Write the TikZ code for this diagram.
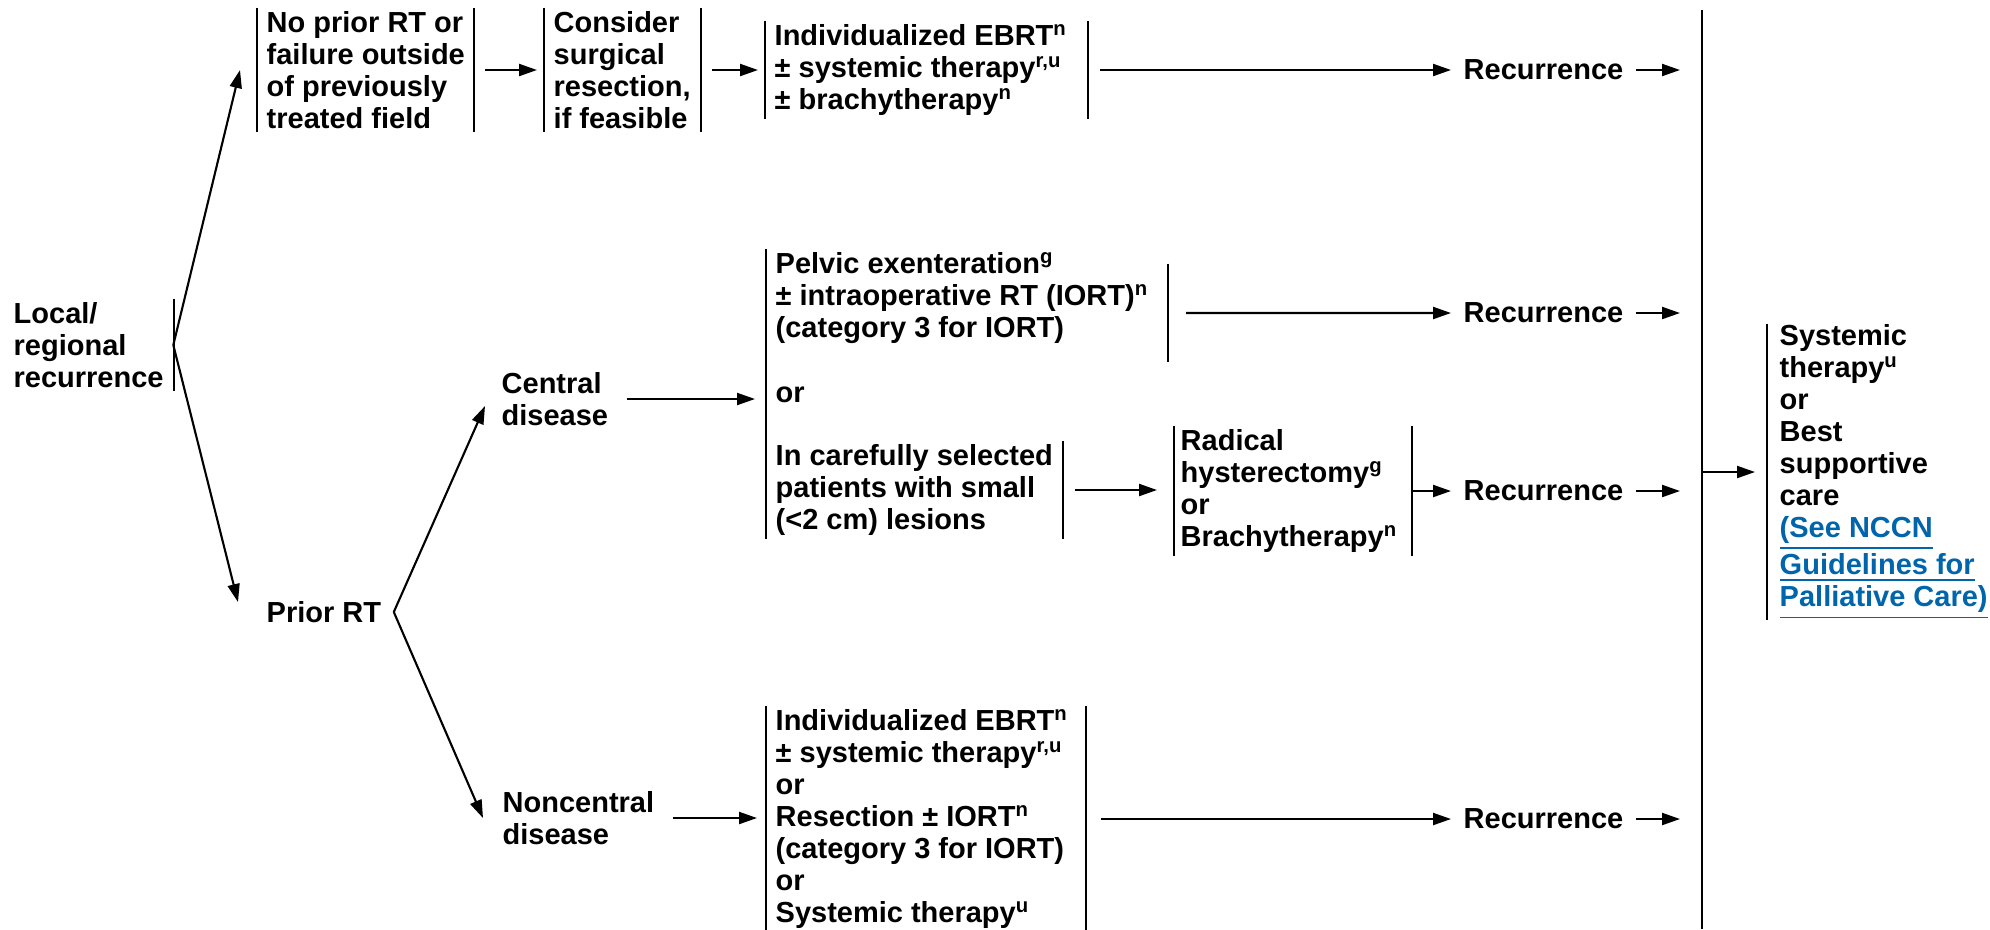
\documentclass[tikz,border=0pt]{standalone}
\usepackage{fontspec}
\setmainfont{Liberation Sans}
\usepackage{tikz}
\usetikzlibrary{arrows.meta}
\definecolor{linkblue}{RGB}{0,101,170}

\begin{document}
\begin{tikzpicture}[
	txt/.style={font=\fontsize{8.25}{9.1}\selectfont\bfseries, inner xsep=0.09cm, inner ysep=0.03cm, align=left},
	barline/.style={-, line width=0.8pt},
	lbar/.style={append after command={(\tikzlastnode.north west) edge[barline] (\tikzlastnode.south west)}},
	rbar/.style={append after command={([xshift=#1]\tikzlastnode.north west) edge[barline] ([xshift=#1]\tikzlastnode.south west)}},
	rec/.style={txt, inner xsep=0.12cm},
	arr/.style={-{Triangle[length=0.18cm,width=0.12cm]}, line width=0.6pt},
	]
	\useasboundingbox (0,0) rectangle (19.90,-9.29);

	%left column
	\node[txt, rbar=1.70cm, anchor=west] (local) at (0.04,-3.45) {Local/\\regional\\recurrence};
	\node[rec, anchor=west] (prior) at (2.54,-6.12) {Prior RT};
	\node[txt, anchor=west] (central) at (4.92,-3.99) {Central\\disease};
	\node[txt, anchor=west] (noncentral) at (4.93,-8.18) {Noncentral\\disease};

	%top row
	\node[txt, lbar, rbar=2.17cm, anchor=west] (noprior) at (2.57,-0.70) {No prior RT or\\failure outside\\of previously\\treated field};
	\node[txt, lbar, rbar=1.57cm, anchor=west] (surg) at (5.44,-0.70) {Consider\\surgical\\resection,\\if feasible};
	\node[txt, lbar, rbar=3.23cm, anchor=west] (ebrt) at (7.65,-0.70) {Individualized EBRT\textsuperscript{n}\\\textpm{} systemic therapy\textsuperscript{r,u}\\\textpm{} brachytherapy\textsuperscript{n}};

	%central disease group
	\node[txt, anchor=west] (pelvic) at (7.66,-2.98) {Pelvic exenteration\textsuperscript{g}\\\textpm{} intraoperative RT (IORT)\textsuperscript{n}\\(category 3 for IORT)};
	\node[txt, anchor=west] (orc) at (7.66,-3.95) {or};
	\node[txt, rbar=2.97cm, anchor=west] (small) at (7.66,-4.90) {In carefully selected\\patients with small\\(<2 cm) lesions};
	\node[txt, inner xsep=0.06cm, lbar, rbar=2.38cm, anchor=west] (radical) at (11.74,-4.91) {Radical\\hysterectomy\textsuperscript{g}\\or\\Brachytherapy\textsuperscript{n}};
		\draw[barline] (pelvic.north west) -- (small.south west);		%group bar
		\draw[barline] ([xshift=4.02cm,yshift=-0.15cm]pelvic.north west) -- ([xshift=4.02cm,yshift=-0.15cm]pelvic.south west);

	%noncentral disease
	\node[txt, lbar, rbar=3.20cm, anchor=west] (nonrx) at (7.66,-8.19) {Individualized EBRT\textsuperscript{n}\\\textpm{} systemic therapy\textsuperscript{r,u}\\or\\Resection \textpm{} IORT\textsuperscript{n}\\(category 3 for IORT)\\or\\Systemic therapy\textsuperscript{u}};

	%recurrence column
	\node[rec, anchor=west] (rec1) at (14.51,-0.70) {Recurrence};
	\node[rec, anchor=west] (rec2) at (14.51,-3.13) {Recurrence};
	\node[rec, anchor=west] (rec3) at (14.51,-4.91) {Recurrence};
	\node[rec, anchor=west] (rec4) at (14.51,-8.19) {Recurrence};
	\coordinate (spinetop) at (17.02,-0.10);
	\coordinate (spinebot) at (17.02,-9.29);
	\draw[barline] (spinetop) -- (spinebot);		%collecting line

	\node[rec, inner ysep=0pt, lbar, anchor=west] (final) at (17.67,-4.72) {Systemic\\therapy\textsuperscript{u}\\or\\Best\\supportive\\care\\\textcolor{linkblue}{\underline{(See NCCN}}\\\textcolor{linkblue}{\underline{Guidelines for}}\\\textcolor{linkblue}{\underline{Palliative Care)}}};

	%arrows
	\draw[arr] (local.east) -- ([xshift=-0.17cm]noprior.west);
	\draw[arr] (local.east) -- ([xshift=-0.16cm,yshift=0.10cm]prior.west);
	\draw[arr] (prior.east) -- ([xshift=-0.07cm,yshift=-0.07cm]central.west);
	\draw[arr] (prior.east) -- ([xshift=-0.10cm]noncentral.west);
	\draw[arr, shorten <=0.11cm, shorten >=0.07cm] ([xshift=2.17cm]noprior.west) -- (surg.west);
	\draw[arr, shorten <=0.11cm, shorten >=0.07cm] ([xshift=1.57cm]surg.west) -- (ebrt.west);
	\draw[arr, shorten <=0.12cm] ([xshift=3.23cm]ebrt.west) -- (rec1.west);
	\draw[arr, shorten <=0.09cm, shorten >=0.11cm] (central.east) -- (central.east -| pelvic.west);
	\draw[arr, shorten <=0.18cm] ([xshift=4.02cm,yshift=-0.15cm]pelvic.west) -- (rec2.west);
	\draw[arr, shorten <=0.12cm, shorten >=0.17cm] ([xshift=2.97cm]small.west) -- (small.west -| radical.west);
	\draw[arr] ([xshift=2.38cm]radical.west) -- (rec3.west);
	\draw[arr, shorten <=0.09cm, shorten >=0.09cm] (noncentral.east) -- (noncentral.east -| nonrx.west);
	\draw[arr, shorten <=0.15cm] ([xshift=3.20cm]nonrx.west) -- (rec4.west);
	\foreach \recnode in {rec1,rec2,rec3,rec4}
		\draw[arr, shorten >=0.22cm] (\recnode.east) -- (\recnode.east -| spinetop);
	\draw[arr, shorten >=0.12cm] (final.west -| spinetop) -- (final.west);
\end{tikzpicture}
\end{document}
